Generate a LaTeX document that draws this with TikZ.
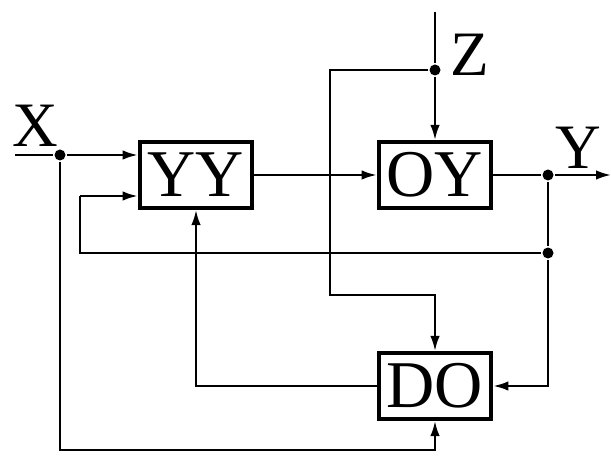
\documentclass[tikz,border=0pt]{standalone}
\usepackage{fontspec}
\setmainfont{Liberation Serif}
\usetikzlibrary{arrows.meta,positioning,calc}

\tikzset{
  blok/.style={draw, line width=2.4pt, fill=white, minimum width=2.25cm, minimum height=1.32cm, inner sep=0pt, font=\fontsize{38}{42}\selectfont},
  sig/.style={-{Latex[length=0.3cm,width=0.19cm]}},
  dot/.style={circle, fill=black, inner sep=0pt, minimum size=0.22cm},
  lbl/.style={font=\fontsize{36}{40}\selectfont, inner sep=0pt}
}

\begin{document}
\begin{tikzpicture}[x=0.2mm, y=-0.2mm, line width=1.2pt]
        \useasboundingbox (0,0) rectangle (611,464);
        \node[blok] (yy) at (196,175) {YY};
        \node[blok] (oy) at (435,175) {OY};
        \node[blok] (do) at (435,386) {DO};

        \coordinate (xin) at (15,155);
        \node[dot] (xd) at (60,155) {};
        \node[lbl] (xl) at (35,126) {X};
        \draw (xin) -- (xd);
        \draw[sig] (xd) -- (yy.west |- xd);

        \coordinate (fb) at (80,196);
        \coordinate (fbc) at (80,253);
        \node[dot] (yd) at (548,253) {};
        \draw[sig] (fb) -- (yy.west |- fb);
        \draw (fb) -- (fbc) -- (yd);

        \node[dot] (od) at (548,175) {};
        \coordinate (yout) at (611,175);
        \node[lbl] (yl) at (578,148) {Y};
        \draw[sig] (yy) -- (oy);
        \draw (oy) -- (od);
        \draw[sig] (od) -- (yout);
        \draw (od) -- (yd);
        \draw[sig] (yd) |- (do.east);

        \coordinate (zin) at (435,12);
        \node[dot] (zd) at (435,70) {};
        \node[lbl] (zl) at (470,55) {Z};
        \coordinate (zt) at (330,70);
        \coordinate (zb) at (330,295);
        \draw (zin) -- (zd);
        \draw[sig] (zd) -- (oy);
        \draw[sig] (zd) -- (zt) -- (zb) -| (do.north);

        \draw[sig] (do.west) -| (yy.south);
        \coordinate (bl) at (60,450);
        \draw[sig] (xd) -- (bl) -| (do.south);
\end{tikzpicture}
\end{document}
